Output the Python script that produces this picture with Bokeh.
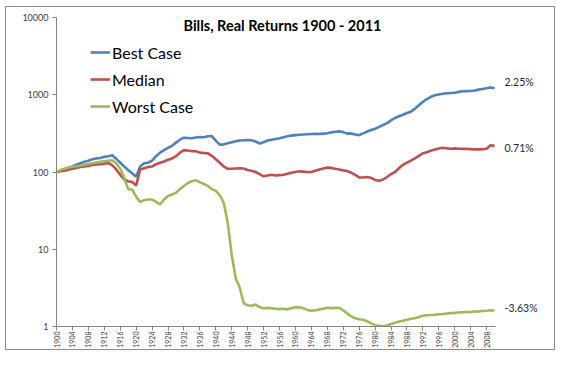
import numpy as np
from bokeh.plotting import figure
from bokeh.models import (ColumnDataSource, FixedTicker, PrintfTickFormatter,
                          Legend, LegendItem, Label, Range1d)
from bokeh.embed import file_html
from bokeh.resources import INLINE
from math import pi

years = list(range(1900, 2011))

best_case = [
    100, 104, 108, 113, 118, 124, 130, 136, 140, 146,   # 1900s
    150, 152, 157, 160, 165, 148, 132, 118, 106, 96,    # 1910s
    87, 118, 130, 132, 140, 160, 178, 192, 205, 218,    # 1920s
    240, 262, 278, 276, 274, 280, 284, 282, 290, 292,   # 1930s
    255, 226, 228, 236, 242, 250, 256, 258, 260, 258,   # 1940s
    248, 234, 242, 256, 262, 268, 274, 282, 290, 296,   # 1950s
    300, 304, 306, 308, 310, 312, 310, 314, 318, 326,   # 1960s
    332, 336, 328, 314, 316, 306, 300, 316, 334, 350,   # 1970s
    362, 384, 406, 430, 466, 500, 526, 550, 580, 604,   # 1980s
    660, 730, 810, 880, 940, 985, 1010, 1030, 1045, 1055,  # 1990s
    1062, 1090, 1110, 1115, 1120, 1135, 1165, 1190, 1215, 1245,  # 2000s
    1210,
]

median = [
    100, 102, 104, 107, 110, 113, 116, 118, 120, 123,
    125, 126, 128, 131, 122, 108, 92, 80, 76, 74,
    67, 108, 112, 116, 118, 126, 132, 137, 144, 150,
    160, 178, 192, 190, 186, 186, 178, 176, 174, 162,
    146, 132, 118, 110, 110, 111, 112, 111, 106, 104,
    100, 94, 88, 90, 92, 90, 91, 92, 95, 98,
    100, 102, 101, 100, 100, 104, 108, 111, 114, 113,
    110, 108, 105, 103, 98, 92, 85, 85, 86, 84,
    79, 77, 80, 86, 94, 100, 112, 124, 132, 140,
    150, 162, 175, 180, 188, 195, 202, 206, 202, 200,
    202, 200, 199, 200, 198, 196, 196, 197, 200, 222,
    218,
]

worst_case = [
    100, 106, 110, 114, 117, 119, 121, 124, 127, 130,
    133, 136, 138, 140, 142, 130, 110, 84, 60, 59,
    48, 41, 43, 44, 44, 41, 38, 44, 49, 51,
    54, 60, 66, 72, 76, 78, 74, 70, 66, 60,
    57, 50, 40, 22, 8.5, 4.2, 3.2, 2.0, 1.88, 1.86,
    1.92, 1.78, 1.72, 1.74, 1.72, 1.70, 1.68, 1.70, 1.66, 1.74,
    1.78, 1.77, 1.72, 1.64, 1.60, 1.62, 1.66, 1.70, 1.75, 1.73,
    1.74, 1.75, 1.62, 1.48, 1.35, 1.28, 1.24, 1.22, 1.17, 1.10,
    1.04, 1.02, 1.01, 1.03, 1.08, 1.12, 1.16, 1.19, 1.22, 1.26,
    1.28, 1.33, 1.38, 1.40, 1.41, 1.42, 1.44, 1.45, 1.47, 1.49,
    1.50, 1.52, 1.53, 1.54, 1.54, 1.56, 1.57, 1.59, 1.60, 1.62,
    1.61,
]

series_names = ["Best Case", "Median", "Worst Case"]
end_labels = ["2.25%", "0.71%", "-3.63%"]
y_ticks = [1, 10, 100, 1000, 10000]
x_ticks = list(range(1900, 2009, 4))
title_text = "Bills, Real Returns 1900 - 2011"

colors = ["#4F81BD", "#C0504D", "#9BBB59"]
FONT = "Lato"

src = ColumnDataSource(dict(year=years, best=best_case, median=median, worst=worst_case))

# the frame extends to the right edge so the end labels are not clipped;
# the x axis line itself is bounded to the data years
p = figure(width=550, height=344, y_axis_type="log",
           x_range=Range1d(1900, 2024.3), y_range=Range1d(1, 10000),
           output_backend="svg", toolbar_location=None,
           min_border_left=50, min_border_right=5,
           min_border_top=10, min_border_bottom=25)
p.styles = {"border": "1px solid #8c8c8c", "box-sizing": "border-box",
            "transform": "translate(5px, 6px)"}
p.outline_line_color = None
p.background_fill_color = "white"
p.border_fill_color = "white"
p.xgrid.visible = False
p.ygrid.visible = False

renderers = []
for col, c in zip(["best", "median", "worst"], colors):
    r = p.line("year", col, source=src, line_color=c, line_width=2.6)
    renderers.append(r)

# axes
p.yaxis.ticker = FixedTicker(ticks=y_ticks, minor_ticks=[])
p.yaxis.formatter = PrintfTickFormatter(format="%d")
p.xaxis.ticker = FixedTicker(ticks=x_ticks, minor_ticks=[])
p.xaxis.bounds = (1900, 2010.2)
p.xaxis.major_label_orientation = pi / 2
for ax in (p.xaxis[0], p.yaxis[0]):
    ax.axis_line_color = "#868686"
    ax.axis_line_width = 1
    ax.major_tick_line_color = "#868686"
    ax.major_tick_out = 4
    ax.major_tick_in = 0
    ax.minor_tick_line_color = None
    ax.major_label_text_font = FONT
    ax.major_label_text_color = "#404040"
p.yaxis.major_label_text_font_size = "9px"
p.yaxis.major_label_standoff = 4
p.xaxis.major_label_text_font_size = "7px"
p.xaxis.major_label_standoff = 1

# legend (location = bottom-left corner, frame-relative px)
legend = Legend(items=[LegendItem(label=n, renderers=[r]) for n, r in zip(series_names, renderers)],
                location=(34, 210), border_line_color=None, background_fill_alpha=0,
                padding=0, spacing=7, glyph_width=20, glyph_height=20, label_height=20,
                label_standoff=2, label_text_font=FONT, label_text_font_size="16px",
                label_text_color="#000000", margin=0)
p.add_layout(legend)

# title inside the chart area (frame-relative screen px)
p.add_layout(Label(x=226, y=301, x_units="screen", y_units="screen",
                   text=title_text, text_font=FONT, text_font_style="bold",
                   text_font_size="14.5px", text_align="center", text_baseline="middle",
                   text_color="#000000"))

# end labels to the right of the data
label_pos_y = [245, 179, 19]
for lab, sy in zip(end_labels, label_pos_y):
    p.add_layout(Label(x=448, y=sy, x_units="screen", y_units="screen", text=lab,
                       text_font=FONT, text_font_size="10.5px", text_baseline="middle",
                       text_color="#262626"))

open("out.html", "w").write(file_html(p, INLINE))
